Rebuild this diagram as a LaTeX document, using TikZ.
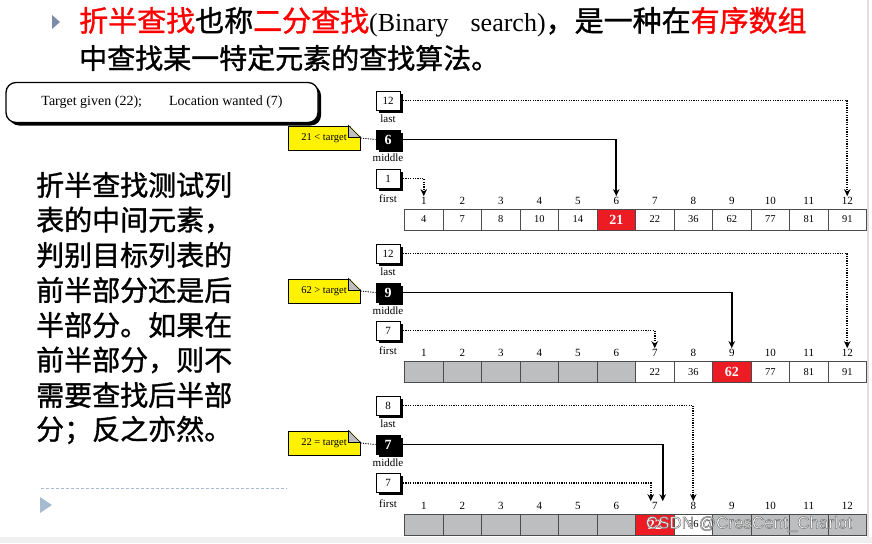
\documentclass[tikz,border=0pt]{standalone}
\usepackage{fontspec}
\setmainfont{Liberation Serif}
\newfontfamily\cjk{Noto Sans CJK SC}[FakeBold=1.2]
\newfontfamily\wmfont{Liberation Sans}
\usetikzlibrary{arrows.meta,shadows}
\definecolor{hotred}{HTML}{ED1C24}
\definecolor{noteyel}{HTML}{FFF200}
\definecolor{deadgrey}{HTML}{BCBEC0}
\definecolor{bulletdark}{HTML}{7C8BA8}
\definecolor{bulletlight}{HTML}{A6BAD2}
\definecolor{titlered}{HTML}{FF0000}
\newcommand\dogear[1]{%
  \fill[white] ([xshift=-12pt,yshift=1pt]#1.north east) -- ([xshift=1pt,yshift=1pt]#1.north east) -- ([xshift=1pt,yshift=-12pt]#1.north east) -- cycle;
  \draw[fold] ([xshift=-12pt]#1.north east) -- ([xshift=-12pt,yshift=-12pt]#1.north east) -- ([yshift=-12pt]#1.north east) -- cycle;}
\begin{document}
\begin{tikzpicture}[x=1pt,y=-1pt,
 cell/.style={draw=black!70, line width=0.8pt, fill=white, minimum width=38.5pt, minimum height=21pt, inner sep=0pt, font=\fontsize{10.5}{10.5}\selectfont},
 dead/.style={fill=deadgrey},
 hot/.style={fill=hotred, text=white, font=\fontsize{14}{14}\selectfont\bfseries},
 idx/.style={inner sep=1pt, font=\fontsize{11}{11}\selectfont},
 ptr/.style={draw, line width=1pt, fill=white, minimum width=24pt, minimum height=19pt, inner sep=0pt, font=\fontsize{11}{11}\selectfont, drop shadow={shadow xshift=2.5pt, shadow yshift=-2.5pt, fill=black, opacity=1}},
 midptr/.style={ptr, fill=black, text=white, font=\fontsize{14}{14}\selectfont\bfseries},
 lbl/.style={inner sep=0pt, font=\fontsize{11}{11}\selectfont},
 note/.style={draw, line width=1pt, fill=noteyel, minimum width=72pt, minimum height=24pt, inner sep=0pt, font=\fontsize{10.5}{10.5}\selectfont},
 fold/.style={draw, line width=0.7pt, fill=deadgrey},
 dotlink/.style={line width=1.6pt, dash pattern=on 1.2pt off 1.2pt, -{Stealth[length=7pt,width=6.5pt]}},
 midlink/.style={line width=1.8pt, -{Stealth[length=7pt,width=6.5pt]}},
 notelink/.style={line width=0.9pt, dash pattern=on 1.2pt off 1.2pt},
 cjkt/.style={inner sep=0pt, anchor=west},
]
\useasboundingbox (0,0) rectangle (872,543);
\fill[white] (0,0) rectangle (872,543);
% slide frame
\fill[gray!12] (0,537) rectangle (872,543);
\draw[gray!25, line width=2pt] (868,0) -- (868,537);

% title
\fill[bulletdark] (52,15) -- (60,22) -- (52,29) -- cycle;
\node[cjkt, font=\cjk\fontsize{29}{29}\selectfont] (t1) at (79,22) {\textcolor{titlered}{折半查找}也称\textcolor{titlered}{二分查找}{\rmfamily\fontsize{26}{26}\selectfont(Binary\hspace{22pt}search)}，是一种在\textcolor{titlered}{有序数组}};
\node[cjkt, font=\cjk\fontsize{28}{28}\selectfont] (t2) at (79,58) {中查找某一特定元素的查找算法。};

% target box
\node[draw, line width=1.3pt, fill=white, rounded corners=10pt, minimum width=312pt, minimum height=40pt, font=\fontsize{14}{14}\selectfont,
  drop shadow={shadow xshift=3pt, shadow yshift=-3pt, fill=black, opacity=1}] (tg) at (162,102.5)
  {Target given (22);\hspace{27pt}Location wanted (7)};

% left paragraph
\foreach \t [count=\r] in {折半查找测试列,表的中间元素，,判别目标列表的,前半部分还是后,半部分。如果在,前半部分，则不,需要查找后半部,分；反之亦然。}
  \node[cjkt, font=\cjk\fontsize{28}{28}\selectfont] (p\r) at (36,{185+35*(\r-1)}) {\t};

\draw[bulletlight, line width=0.8pt, dash pattern=on 3pt off 2pt] (41,488) -- (287,488);
\fill[bulletlight] (40,497) -- (52,505) -- (40,513) -- cycle;

% ---------- panel 1
\foreach \k/\v in {1/4,2/7,3/8,4/10,5/14,7/22,8/36,9/62,10/77,11/81,12/91}
  \node[cell] (a1-\k) at ({404.5+38.5*(\k-0.5)},219.5) {\v};
\node[cell,hot] (a1-6) at ({404.5+38.5*5.5},219.5) {21};
\foreach \k in {1,...,12}
  \node[idx] (i1-\k) at ({404.5+38.5*(\k-0.5)},201) {\k};
\node[ptr] (L1) at (388,100.5) {12};
\node[lbl] (l1) at (388,118.5) {last};
\node[midptr] (M1) at (388,139.5) {6};
\node[lbl] (m1) at (388,158) {middle};
\node[ptr] (F1) at (388,178.5) {1};
\node[lbl] (f1) at (388,198.5) {first};
\node[note] (N1) at (324,138) {21 < target};
\dogear{N1}
\draw[notelink] (N1.east) -- (M1.west);
\draw[dotlink] (L1.east) -| (i1-12.north);
\draw[midlink] (M1.east) -| (i1-6.north);
\draw[dotlink] (F1.east) -| (i1-1.north);

% ---------- panel 2
\foreach \k in {1,...,6}
  \node[cell,dead] (a2-\k) at ({404.5+38.5*(\k-0.5)},372) {};
\foreach \k/\v in {7/22,8/36,10/77,11/81,12/91}
  \node[cell] (a2-\k) at ({404.5+38.5*(\k-0.5)},372) {\v};
\node[cell,hot] (a2-9) at ({404.5+38.5*8.5},372) {62};
\foreach \k in {1,...,12}
  \node[idx] (i2-\k) at ({404.5+38.5*(\k-0.5)},353) {\k};
\node[ptr] (L2) at (388,253.5) {12};
\node[lbl] (l2) at (388,272) {last};
\node[midptr] (M2) at (388,292.5) {9};
\node[lbl] (m2) at (388,311) {middle};
\node[ptr] (F2) at (388,330.5) {7};
\node[lbl] (f2) at (388,351) {first};
\node[note] (N2) at (324,291) {62 > target};
\dogear{N2}
\draw[notelink] (N2.east) -- (M2.west);
\draw[dotlink] (L2.east) -| (i2-12.north);
\draw[midlink] (M2.east) -| (i2-9.north);
\draw[dotlink] (F2.east) -| (i2-7.north);

% ---------- panel 3
\foreach \k in {1,2,3,4,5,6,9,10,11,12}
  \node[cell,dead] (a3-\k) at ({404.5+38.5*(\k-0.5)},524.5) {};
\node[cell,hot] (a3-7) at ({404.5+38.5*6.5},524.5) {22};
\node[cell] (a3-8) at ({404.5+38.5*7.5},524.5) {36};
\foreach \k in {1,...,12}
  \node[idx] (i3-\k) at ({404.5+38.5*(\k-0.5)},506) {\k};
\node[ptr] (L3) at (388,405.5) {8};
\node[lbl] (l3) at (388,424) {last};
\node[midptr] (M3) at (388,444.5) {7};
\node[lbl] (m3) at (388,463) {middle};
\node[ptr] (F3) at (388,483) {7};
\node[lbl] (f3) at (388,504) {first};
\node[note] (N3) at (324,443) {22 = target};
\dogear{N3}
\draw[notelink] (N3.east) -- (M3.west);
\draw[dotlink] (L3.east) -| (i3-8.north);
\draw[midlink] (M3.east) -| ([xshift=8pt]i3-7.north);
\draw[dotlink] (F3.east) -| ([xshift=-4pt]i3-7.north);

% watermark (white letters, grey outline)
\node[font=\wmfont\fontsize{17}{17}\selectfont, text=white, inner sep=0pt] (wm) at (749,524)
  {\special{pdf:literal direct 2 Tr 0.5 w 0.45 0.45 0.45 RG}CSDN @CresCent\_Charlot\special{pdf:literal direct 0 Tr}};
\end{tikzpicture}
\end{document}
